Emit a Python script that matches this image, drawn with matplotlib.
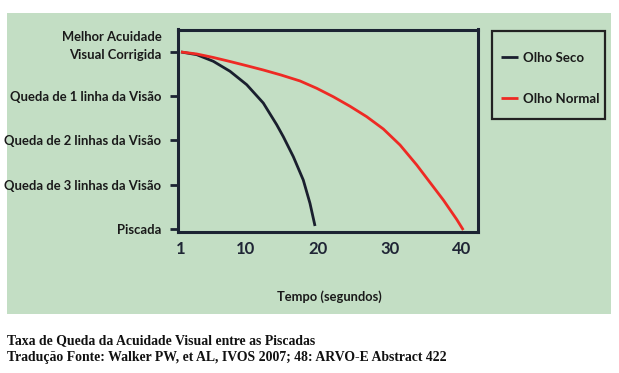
import matplotlib
matplotlib.use("Agg")
import matplotlib.pyplot as plt
import matplotlib.patches as patches
from matplotlib.transforms import ScaledTranslation

# ---- data ----
seco_x = [1.00, 3.18, 5.48, 7.80, 10.12, 12.42, 14.28, 15.20, 16.59, 17.97, 18.90, 19.60]
seco_y = [4.000, 3.939, 3.790, 3.564, 3.261, 2.847, 2.357, 2.086, 1.634, 1.107, 0.581, 0.068]
normal_x = [1.00, 3.18, 5.48, 7.80, 10.12, 12.42, 14.88, 17.52, 19.83, 22.14, 24.46,
            26.77, 29.08, 31.40, 33.72, 35.56, 37.41, 39.27, 40.18]
normal_y = [4.000, 3.955, 3.876, 3.785, 3.690, 3.593, 3.480, 3.345, 3.180, 2.988, 2.773,
            2.538, 2.260, 1.898, 1.446, 1.051, 0.655, 0.215, -0.023]
x_ticks = [1, 10, 20, 30, 40]
y_ticks = [0, 1, 2, 3, 4]
y_labels = ["Piscada", "Queda de 3 linhas da Visão", "Queda de 2 linhas da Visão",
            "Queda de 1 linha da Visão", "Melhor Acuidade\nVisual Corrigida"]
series_names = ["Olho Seco", "Olho Normal"]
x_title = "Tempo (segundos)"
caption = ["Taxa de Queda da Acuidade Visual entre as Piscadas",
           "Tradução Fonte: Walker PW, et AL, IVOS 2007; 48: ARVO-E Abstract 422"]

W, H = 619, 373
GREEN = "#c3dec4"
DARK = "#1c2433"
FONT = ["Lato", "DejaVu Sans"]
fig = plt.figure(figsize=(W / 100, H / 100), dpi=100)
fig.patch.set_facecolor("white")

# green panel
fig.patches.append(patches.Rectangle((7 / W, (H - 314) / H), 604 / W, 301 / H,
                                     transform=fig.transFigure, facecolor=GREEN,
                                     edgecolor="none", zorder=-10))
# legend frame
fig.patches.append(patches.Rectangle((492 / W, (H - 119) / H), 113 / W, 88 / H,
                                     transform=fig.transFigure, facecolor=GREEN,
                                     edgecolor="#222222", lw=1.6, zorder=-5))

def px(l, t, r, b):
    return [l / W, (H - b) / H, (r - l) / W, (b - t) / H]

ax = fig.add_axes(px(178, 29.5, 477.5, 231.5))
ax.set_facecolor(GREEN)
ax.plot(seco_x, seco_y, color="#1a1f2e", lw=2.0, label=series_names[0],
        solid_capstyle="butt", solid_joinstyle="round")
ax.plot(normal_x, normal_y, color="#ee2a24", lw=2.0, label=series_names[1],
        solid_capstyle="butt", solid_joinstyle="round")
ax.set_xlim(0.584, 42.15)
ax.set_ylim(-0.0565, 4.508)

for s in ax.spines.values():
    s.set_color(DARK)
    s.set_linewidth(2.2)

lab_font = dict(family=FONT, weight="bold")
ax.set_yticks(y_ticks)
ax.set_yticklabels(y_labels, fontsize=9.4, color="#1a1a1a", **lab_font)
ax.tick_params(axis="y", length=6, width=2, color=DARK, pad=6)
ax.set_xticks(x_ticks)
ax.set_xticklabels([str(v) for v in x_ticks], fontsize=12, color="#1f2535", **lab_font)
ax.tick_params(axis="x", length=0, pad=7)
top_lab = ax.get_yticklabels()[-1]
top_lab.set_transform(top_lab.get_transform() + ScaledTranslation(0, 7.5 / 72, fig.dpi_scale_trans))
top_lab.set_linespacing(1.6)

fig.text(329 / W, 1 - 297 / H, x_title, ha="center", va="center", fontsize=9.3,
         color="#1a1a1a", **lab_font)

leg = ax.legend(loc="upper left", bbox_to_anchor=(501 / W, 1 - 51.5 / H),
                bbox_transform=fig.transFigure, frameon=False,
                handlelength=1.3, handletextpad=0.4, labelspacing=2.2,
                borderpad=0, borderaxespad=0,
                prop=dict(family=FONT, weight="bold", size=9.5))
for t in leg.get_texts():
    t.set_color("#1a1a1a")

fig.text(7 / W, 1 - 341 / H, caption[0], ha="left", va="center", fontsize=9.9,
         family=["Liberation Serif", "DejaVu Serif"], weight="bold", color="#111111")
fig.text(7 / W, 1 - 357 / H, caption[1], ha="left", va="center", fontsize=9.9,
         family=["Liberation Serif", "DejaVu Serif"], weight="bold", color="#111111")

fig.savefig("out.png", dpi=100)
